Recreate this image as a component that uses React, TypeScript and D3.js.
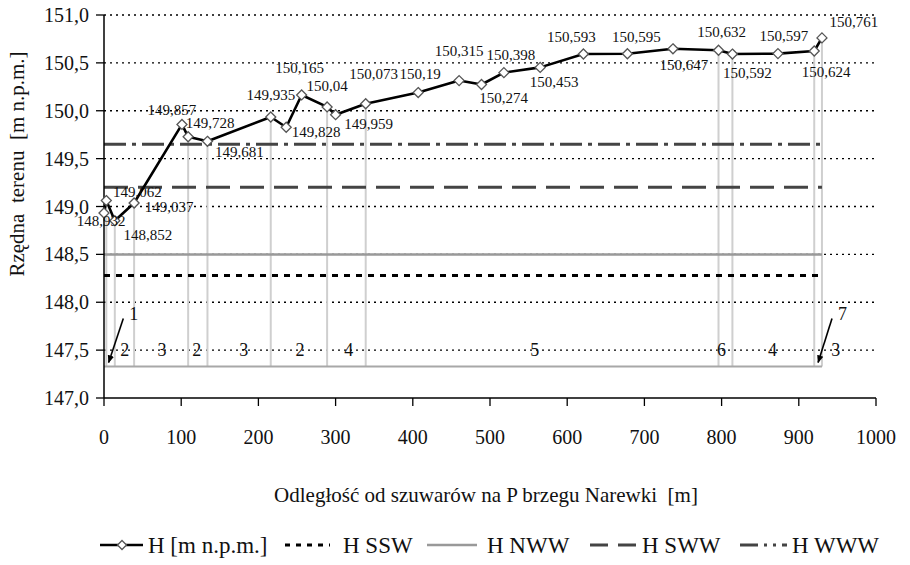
import React from "react";
import * as d3 from "d3";

// ---- data ----
const distances = [0, 3, 14, 39, 101, 109, 134, 216, 236, 256, 289, 300, 339, 407, 460, 489, 518, 565, 621, 678, 737, 796, 814, 873, 920, 930];
const elevations = [148.932, 149.062, 148.852, 149.037, 149.857, 149.728, 149.681, 149.935, 149.828, 150.165, 150.04, 149.959, 150.073, 150.19, 150.315, 150.274, 150.398, 150.453, 150.593, 150.595, 150.647, 150.632, 150.592, 150.597, 150.624, 150.761];
const dropIndices = [1, 2, 3, 5, 6, 7, 10, 12, 21, 22, 24, 25];
const baseLevel = 147.33;
const levelSSW = 148.28;
const levelNWW = 148.5;
const levelSWW = 149.2;
const levelWWW = 149.65;
const sectionNames = ["2", "3", "2", "3", "2", "4", "5", "6", "4", "3"];
const sectionCenters = [27, 75, 120, 181, 254, 317, 558, 800, 866, 948];
const arrowNames = ["1", "7"];
const arrowStarts = [[25, 147.83], [943, 147.83]];
const arrowEnds = [[6, 147.37], [925, 147.37]];
const xTicks = [0, 100, 200, 300, 400, 500, 600, 700, 800, 900, 1000];
const yTicks = [147, 147.5, 148, 148.5, 149, 149.5, 150, 150.5, 151];
const xTitle = "Odległość od szuwarów na P brzegu Narewki  [m]";
const yTitle = "Rzędna  terenu  [m n.p.m.]";
const legendNames = ["H [m n.p.m.]", "H SSW", "H NWW", "H SWW", "H WWW"];

// ---- layout (label nudges in px, not data) ----
const labelNudge: [number, number][] = [
  [-3, 13], [31, -4], [33, 19], [35, 9], [-10, -9], [22, -9], [32, 16], [0, -17], [30, 10], [-2, -22],
  [0, -16], [33, 14], [8, -25], [2, -14], [0, -25], [22, 18], [7, -13], [14, 20], [-12, -12], [9, -12],
  [11, 21], [3, -13], [15, 24], [6, -13], [12, 26], [32, -11],
];

const FONT = '"Liberation Serif", "DejaVu Serif", serif';

export default function App() {
  const x = d3.scaleLinear().domain([0, 1000]).range([104, 876]);
  const y = d3.scaleLinear().domain([147, 151]).range([398, 15]);
  const pts = distances.map((d, i) => [d, elevations[i]] as [number, number]);
  const line = d3.line<[number, number]>().x((d) => x(d[0])).y((d) => y(d[1]));
  const fmt = (v: number) => String(v).replace(".", ",");
  const fmtTick = (v: number) => d3.format(".1f")(v).replace(".", ",");
  const xEnd = distances[distances.length - 1];
  const diamond = (cx: number, cy: number, r = 5) => `M${cx},${cy - r}L${cx + r},${cy}L${cx},${cy + r}L${cx - r},${cy}Z`;

  const hLine = (lv: number, stroke: string, width: number, dash?: string) => (
    <line x1={x(0)} x2={x(xEnd)} y1={y(lv)} y2={y(lv)} stroke={stroke} strokeWidth={width} strokeDasharray={dash} />
  );

  const legY = 545;
  return (
    <div style={{ position: "absolute", left: 0, top: 0 }}>
      <svg width={910} height={565} style={{ display: "block", background: "#fff", fontFamily: FONT }}>
        <defs>
          <marker id="arr" viewBox="0 0 10 10" refX="9" refY="5" markerWidth="8" markerHeight="8" orient="auto" markerUnits="userSpaceOnUse">
            <path d="M0,1L10,5L0,9Z" fill="#000" />
          </marker>
        </defs>
        {/* grid */}
        {yTicks.slice(1).map((t) => (
          <line key={t} x1={x(0)} x2={878} y1={y(t)} y2={y(t)} stroke="#000" strokeWidth={1.3} strokeDasharray="2,4" />
        ))}
        {/* drop lines */}
        {dropIndices.map((i) => (
          <line key={i} x1={x(distances[i])} x2={x(distances[i])} y1={y(elevations[i])} y2={y(baseLevel)} stroke="#cfcfcf" strokeWidth={2} />
        ))}
        {hLine(baseLevel, "#a8a8a8", 2)}
        {hLine(levelNWW, "#999", 2.5)}
        {hLine(levelSSW, "#000", 3, "6,6")}
        {hLine(levelSWW, "#444", 3, "24,10")}
        {hLine(levelWWW, "#444", 3, "22,6,4,6")}
        {/* axes */}
        <line x1={x(0)} x2={x(1000)} y1={y(147)} y2={y(147)} stroke="#000" strokeWidth={1.5} />
        <line x1={x(0)} x2={x(0)} y1={y(147)} y2={y(151)} stroke="#000" strokeWidth={1.5} />
        {xTicks.map((t) => (
          <g key={t}>
            <line x1={x(t)} x2={x(t)} y1={y(147)} y2={y(147) + 8} stroke="#000" strokeWidth={1.3} />
            <text x={x(t)} y={444} fontSize={20} textAnchor="middle" fill="#111">{t}</text>
          </g>
        ))}
        {yTicks.map((t) => (
          <g key={t}>
            <line x1={x(0) - 8} x2={x(0)} y1={y(t)} y2={y(t)} stroke="#000" strokeWidth={1.3} />
            <text x={89} y={y(t)} dy="0.35em" fontSize={20} textAnchor="end" fill="#111">{fmtTick(t)}</text>
          </g>
        ))}
        {/* main profile */}
        <path d={line(pts) || ""} fill="none" stroke="#000" strokeWidth={2.6} strokeLinejoin="round" />
        {pts.map((p, i) => (
          <path key={i} d={diamond(x(p[0]), y(p[1]))} fill="#fff" stroke="#555" strokeWidth={1.3} />
        ))}
        {pts.map((p, i) => (
          <text key={i} x={x(p[0]) + labelNudge[i][0]} y={y(p[1]) + labelNudge[i][1]} fontSize={15} textAnchor="middle" fill="#111">
            {fmt(p[1])}
          </text>
        ))}
        {/* sections */}
        {sectionNames.map((s, i) => (
          <text key={i} x={x(sectionCenters[i])} y={y(147.5)} dy="0.35em" fontSize={18} textAnchor="middle" fill="#111">{s}</text>
        ))}
        {arrowNames.map((s, i) => (
          <g key={s}>
            <line x1={x(arrowStarts[i][0])} y1={y(arrowStarts[i][1])} x2={x(arrowEnds[i][0])} y2={y(arrowEnds[i][1])} stroke="#000" strokeWidth={1.6} markerEnd="url(#arr)" />
            <text x={x(arrowStarts[i][0]) + 6} y={y(arrowStarts[i][1]) + 1} fontSize={18} fill="#111">{s}</text>
          </g>
        ))}
        {/* titles */}
        <text x={486} y={502} fontSize={21} textAnchor="middle" fill="#111" style={{ whiteSpace: "pre" }}>{xTitle}</text>
        <text transform={`translate(24,164) rotate(-90)`} fontSize={21} textAnchor="middle" fill="#111" style={{ whiteSpace: "pre" }}>{yTitle}</text>
        {/* legend */}
        <g fontSize={23} fill="#111">
          <line x1={100} x2={143} y1={legY} y2={legY} stroke="#000" strokeWidth={2.6} />
          <path d={diamond(122, legY, 4.5)} fill="#fff" stroke="#555" strokeWidth={1.3} />
          <text x={148} y={legY} dy="0.35em">{legendNames[0]}</text>
          <line x1={285} x2={330} y1={legY} y2={legY} stroke="#000" strokeWidth={3} strokeDasharray="5,6" />
          <text x={343} y={legY} dy="0.35em">{legendNames[1]}</text>
          <line x1={427} x2={477} y1={legY} y2={legY} stroke="#999" strokeWidth={2.5} />
          <text x={487} y={legY} dy="0.35em">{legendNames[2]}</text>
          <line x1={590} x2={637} y1={legY} y2={legY} stroke="#444" strokeWidth={3} strokeDasharray="18,10" />
          <text x={642} y={legY} dy="0.35em">{legendNames[3]}</text>
          <line x1={740} x2={787} y1={legY} y2={legY} stroke="#444" strokeWidth={3} strokeDasharray="18,6,3,6,3,6" />
          <text x={792} y={legY} dy="0.35em">{legendNames[4]}</text>
        </g>
      </svg>
    </div>
  );
}
